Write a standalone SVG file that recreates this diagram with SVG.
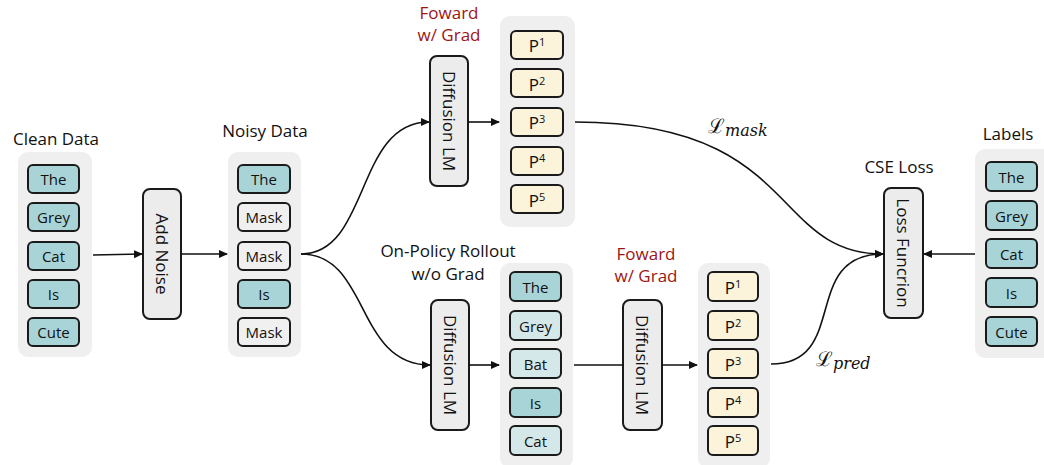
<svg xmlns="http://www.w3.org/2000/svg" width="1044" height="465" viewBox="0 0 1044 465">
<style>
text{font-family:"Open Sans","DejaVu Sans",sans-serif;fill:#111;}
.panel{fill:#efefef;}
.tok{stroke:#1a1a1a;stroke-width:2;}
.teal{fill:#a8d4d8;}
.lteal{fill:#d4e7e9;}
.mask{fill:#f0f0f0;}
.cream{fill:#fbf3da;}
.box{fill:#ececec;stroke:#1a1a1a;stroke-width:2;}
.tt{font-size:15px;text-anchor:middle;dominant-baseline:central;}
.title{font-size:17px;text-anchor:middle;}
.red{fill:#9c1414;font-size:17px;text-anchor:middle;}
.vt{font-size:17px;text-anchor:middle;dominant-baseline:central;}
.conn{fill:none;stroke:#111;stroke-width:1.6;}
.math{font-family:"DejaVu Serif","Liberation Serif",serif;font-size:20px;}
.sub{font-family:"DejaVu Serif","Liberation Serif",serif;font-style:italic;font-size:16px;}
.p{font-size:17px;}
.s{font-size:11px;}
</style>
<defs>
<marker id="arr" markerWidth="10" markerHeight="10" refX="8" refY="5" orient="auto" markerUnits="userSpaceOnUse">
<path d="M0,1 L9,5 L0,9 Z" fill="#111"/>
</marker>
</defs>

<g id="clean-data">
<text class="title" x="56" y="145">Clean Data</text>
<rect class="panel" x="18" y="152" width="74" height="205" rx="10"/>
<rect class="tok teal" x="28" y="165" width="51" height="28" rx="5"/><text class="tt" x="53.5" y="179">The</text>
<rect class="tok teal" x="28" y="203" width="51" height="28" rx="5"/><text class="tt" x="53.5" y="217">Grey</text>
<rect class="tok teal" x="28" y="242" width="51" height="28" rx="5"/><text class="tt" x="53.5" y="256">Cat</text>
<rect class="tok teal" x="28" y="280" width="51" height="28" rx="5"/><text class="tt" x="53.5" y="294">Is</text>
<rect class="tok teal" x="28" y="318" width="51" height="28" rx="5"/><text class="tt" x="53.5" y="332">Cute</text>
</g>

<g id="add-noise">
<rect class="box" x="143" y="189" width="38" height="130" rx="7"/>
<text class="vt" transform="translate(162,254) rotate(90)">Add Noise</text>
</g>

<g id="noisy-data">
<text class="title" x="265" y="137">Noisy Data</text>
<rect class="panel" x="228" y="152" width="73" height="205" rx="10"/>
<rect class="tok teal" x="238" y="165" width="52" height="28" rx="5"/><text class="tt" x="264" y="179">The</text>
<rect class="tok mask" x="238" y="203" width="52" height="28" rx="5"/><text class="tt" x="264" y="217">Mask</text>
<rect class="tok mask" x="238" y="242" width="52" height="28" rx="5"/><text class="tt" x="264" y="256">Mask</text>
<rect class="tok teal" x="238" y="280" width="52" height="28" rx="5"/><text class="tt" x="264" y="294">Is</text>
<rect class="tok mask" x="238" y="318" width="52" height="28" rx="5"/><text class="tt" x="264" y="332">Mask</text>
</g>

<g id="diffusion-top">
<text class="red" x="449" y="19">Foward</text>
<text class="red" x="449" y="41">w/ Grad</text>
<rect class="box" x="430" y="56" width="38" height="130" rx="7"/>
<text class="vt" transform="translate(449,121) rotate(90)">Diffusion LM</text>
</g>

<g id="pred-top">
<rect class="panel" x="500" y="16" width="75" height="211" rx="10"/>
<rect class="tok cream" x="511" y="31" width="52" height="28" rx="5"/><text class="tt" x="537" y="45"><tspan class="p">P</tspan><tspan class="s" dy="-4">1</tspan></text>
<rect class="tok cream" x="511" y="69" width="52" height="28" rx="5"/><text class="tt" x="537" y="83.5"><tspan class="p">P</tspan><tspan class="s" dy="-4">2</tspan></text>
<rect class="tok cream" x="511" y="108" width="52" height="28" rx="5"/><text class="tt" x="537" y="122"><tspan class="p">P</tspan><tspan class="s" dy="-4">3</tspan></text>
<rect class="tok cream" x="511" y="147" width="52" height="28" rx="5"/><text class="tt" x="537" y="161"><tspan class="p">P</tspan><tspan class="s" dy="-4">4</tspan></text>
<rect class="tok cream" x="511" y="185" width="52" height="28" rx="5"/><text class="tt" x="537" y="199.5"><tspan class="p">P</tspan><tspan class="s" dy="-4">5</tspan></text>
</g>

<g id="diffusion-rollout">
<text class="title" x="448" y="257">On-Policy Rollout</text>
<text class="title" x="448" y="280">w/o Grad</text>
<rect class="box" x="431" y="300" width="38" height="130" rx="7"/>
<text class="vt" transform="translate(450,365) rotate(90)">Diffusion LM</text>
</g>

<g id="rollout-data">
<rect class="panel" x="500" y="263" width="73" height="205" rx="10"/>
<rect class="tok teal" x="510" y="272" width="51" height="29" rx="5"/><text class="tt" x="535.5" y="286.5">The</text>
<rect class="tok lteal" x="510" y="311" width="51" height="29" rx="5"/><text class="tt" x="535.5" y="325.5">Grey</text>
<rect class="tok lteal" x="510" y="349" width="51" height="29" rx="5"/><text class="tt" x="535.5" y="363.5">Bat</text>
<rect class="tok teal" x="510" y="388" width="51" height="29" rx="5"/><text class="tt" x="535.5" y="402.5">Is</text>
<rect class="tok lteal" x="510" y="426" width="51" height="29" rx="5"/><text class="tt" x="535.5" y="440.5">Cat</text>
</g>

<g id="diffusion-bottom">
<text class="red" x="646" y="260">Foward</text>
<text class="red" x="646" y="282">w/ Grad</text>
<rect class="box" x="623" y="300" width="39" height="130" rx="7"/>
<text class="vt" transform="translate(642.5,365) rotate(90)">Diffusion LM</text>
</g>

<g id="pred-bottom">
<rect class="panel" x="698" y="263" width="72" height="205" rx="10"/>
<rect class="tok cream" x="708" y="272" width="50" height="29" rx="5"/><text class="tt" x="733" y="286.5"><tspan class="p">P</tspan><tspan class="s" dy="-4">1</tspan></text>
<rect class="tok cream" x="708" y="311" width="50" height="29" rx="5"/><text class="tt" x="733" y="325.5"><tspan class="p">P</tspan><tspan class="s" dy="-4">2</tspan></text>
<rect class="tok cream" x="708" y="349" width="50" height="29" rx="5"/><text class="tt" x="733" y="363.5"><tspan class="p">P</tspan><tspan class="s" dy="-4">3</tspan></text>
<rect class="tok cream" x="708" y="388" width="50" height="29" rx="5"/><text class="tt" x="733" y="402.5"><tspan class="p">P</tspan><tspan class="s" dy="-4">4</tspan></text>
<rect class="tok cream" x="708" y="426" width="50" height="29" rx="5"/><text class="tt" x="733" y="440.5"><tspan class="p">P</tspan><tspan class="s" dy="-4">5</tspan></text>
</g>

<g id="loss-function">
<text class="title" x="899" y="173">CSE Loss</text>
<rect class="box" x="884" y="188" width="39" height="130" rx="7"/>
<text class="vt" transform="translate(903.5,253) rotate(90)">Loss Funcrion</text>
</g>

<g id="labels">
<text class="title" x="1008" y="140">Labels</text>
<rect class="panel" x="975" y="149" width="80" height="209" rx="10"/>
<rect class="tok teal" x="986" y="162" width="51" height="29" rx="5"/><text class="tt" x="1011.5" y="177">The</text>
<rect class="tok teal" x="986" y="201" width="51" height="29" rx="5"/><text class="tt" x="1011.5" y="215.5">Grey</text>
<rect class="tok teal" x="986" y="239" width="51" height="29" rx="5"/><text class="tt" x="1011.5" y="253.5">Cat</text>
<rect class="tok teal" x="986" y="278" width="51" height="29" rx="5"/><text class="tt" x="1011.5" y="292.5">Is</text>
<rect class="tok teal" x="986" y="317" width="51" height="29" rx="5"/><text class="tt" x="1011.5" y="331.5">Cute</text>
</g>

<g id="connectors">
<path class="conn" d="M93,255 L142,254" marker-end="url(#arr)"/>
<path class="conn" d="M181,254 L227,254" marker-end="url(#arr)"/>
<path class="conn" d="M301,254 C370,254 355,122 429,122" marker-end="url(#arr)"/>
<path class="conn" d="M301,254 C370,254 355,365 430,365" marker-end="url(#arr)"/>
<path class="conn" d="M468,122 L499,122" marker-end="url(#arr)"/>
<path class="conn" d="M469,365 L499,365"  marker-end="url(#arr)"/>
<path class="conn" d="M574,365 L623,365"/>
<path class="conn" d="M662,365 L697,365" marker-end="url(#arr)"/>
<path class="conn" d="M575,122 C800,122 770,254 883,254" marker-end="url(#arr)"/>
<path class="conn" d="M771,364 C850,364 800,254 883,254" marker-end="url(#arr)"/>
<path class="conn" d="M975,254 L924,254" marker-end="url(#arr)"/>
<text x="708" y="133"><tspan class="math">ℒ</tspan><tspan class="sub" dy="3">mask</tspan></text>
<text x="816" y="366"><tspan class="math">ℒ</tspan><tspan class="sub" dy="3">pred</tspan></text>
</g>
</svg>
